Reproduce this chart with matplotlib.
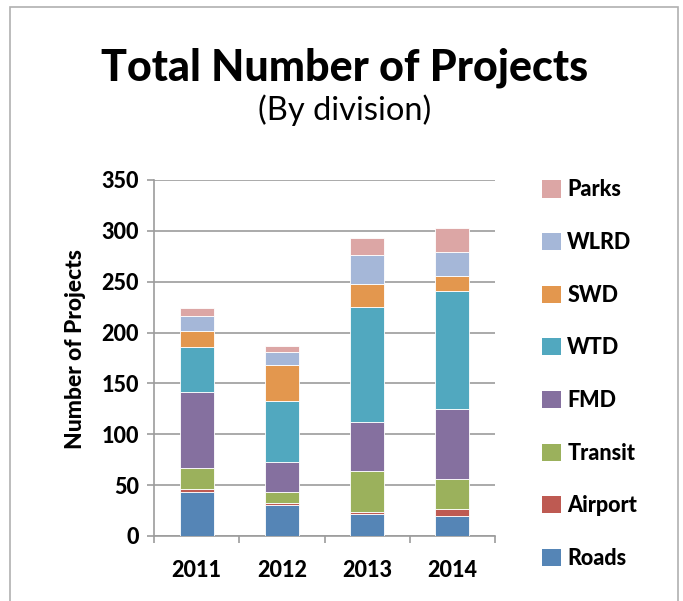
import matplotlib
matplotlib.use("Agg")
import matplotlib.pyplot as plt
from matplotlib.patches import Rectangle, Patch
import numpy as np

plt.rcParams['font.family'] = ['Lato', 'DejaVu Sans']

years = ["2011", "2012", "2013", "2014"]
divisions = ["Roads", "Airport", "Transit", "FMD", "WTD", "SWD", "WLRD", "Parks"]
roads   = [43, 30, 22, 20]
airport = [3, 2, 2, 7]
transit = [21, 11, 40, 29]
fmd     = [75, 30, 48, 69]
wtd     = [44, 60, 113, 116]
swd     = [16, 35, 23, 15]
wlrd    = [14, 13, 28, 23]
parks   = [8, 6, 17, 24]
series = [roads, airport, transit, fmd, wtd, swd, wlrd, parks]
colors = ["#5585B6", "#BE5A52", "#9BB15C", "#85709F",
          "#51A8BF", "#E3974E", "#A5B7D8", "#DCA6A5"]
yticks = [0, 50, 100, 150, 200, 250, 300, 350]

W = "black"

fig = plt.figure(figsize=(6.83, 6.01), dpi=100)
fig.patches.append(Rectangle((10 / 683, -0.05), 668 / 683, 1.05 - 7 / 601,
                             transform=fig.transFigure, fill=False,
                             edgecolor="#b0b0b0", linewidth=1.2))

ax = fig.add_axes([154 / 683, 1 - 536 / 601, 341 / 683, 356 / 601])
x = np.arange(len(years))
bottom = np.zeros(len(years))
handles = []
for name, vals, c in zip(divisions, series, colors):
    ax.bar(x, vals, width=0.4, bottom=bottom, color=c, edgecolor="white",
           linewidth=0.6, zorder=3)
    bottom += np.array(vals)
    handles.append(Patch(facecolor=c, edgecolor="none", label=name))

grid_c = "#9c9c9c"
ax.set_xlim(-0.5, len(years) - 0.5)
ax.set_ylim(0, 350)
ax.set_yticks(yticks)
ax.set_yticklabels([str(v) for v in yticks])
ax.yaxis.grid(True, color=grid_c, linewidth=1.2, zorder=0)
for s in ["top", "right"]:
    ax.spines[s].set_visible(False)
for s in ["left", "bottom"]:
    ax.spines[s].set_color(grid_c)
    ax.spines[s].set_linewidth(1.2)

ax.set_xticks(np.arange(-0.5, len(years)), labels=[""] * (len(years) + 1))
ax.set_xticks(x, labels=years, minor=True)
ax.tick_params(axis="x", which="major", direction="out", length=5,
               color=grid_c, width=1.2)
ax.tick_params(axis="x", which="minor", length=0, pad=17)
ax.tick_params(axis="y", direction="out", length=5, color=grid_c, width=1.2,
               pad=6)
for lab in ax.get_xticklabels(minor=True) + ax.get_yticklabels():
    lab.set_fontweight(W)
    lab.set_fontsize(15.5)

ax.set_ylabel("Number of Projects", fontsize=16.5, fontweight=W)
ax.yaxis.set_label_coords(-0.199, 0.525)

fig.text(0.505, 1 - 68 / 601, "Total Number of Projects", ha="center",
         va="center", fontsize=31, fontweight=W)
fig.text(0.505, 1 - 110 / 601, "(By division)", ha="center", va="center",
         fontsize=23.5)

leg = fig.legend(handles=handles[::-1], loc="upper left",
                 bbox_to_anchor=(523 / 683, 1 - 160 / 601), frameon=False,
                 prop={"weight": W, "size": 15.5}, handlelength=0.85,
                 handleheight=0.85, handletextpad=0.3, labelspacing=1.47)

fig.savefig("out.png", dpi=100)
